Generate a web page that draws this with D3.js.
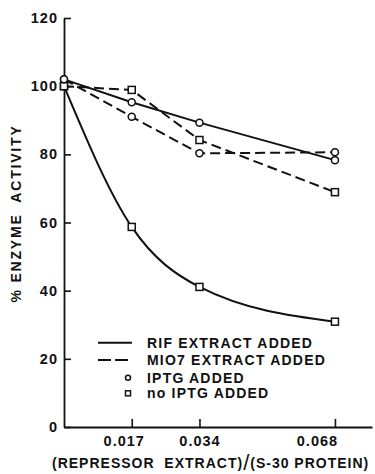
<!DOCTYPE html>
<html><head><meta charset="utf-8">
<script src="https://cdn.jsdelivr.net/npm/d3@7"></script>
<style>
html,body{margin:0;padding:0;background:#fff;}
svg{display:block;}
text{font-family:"Liberation Sans",Arial,sans-serif;fill:#111;}
</style></head>
<body>
<svg id="chart" width="375" height="474"></svg>
<script>
// ---- data ----
const xTicks = [0.017, 0.034, 0.068];
const yTicks = [0, 20, 40, 60, 80, 100, 120];
const xValues = [0, 0.017, 0.034, 0.068];
const rifIptg = [102, 95.3, 89.3, 78.3];
const rifNoIptg = [100, 58.7, 41.1, 30.9];
const m107Iptg = [102, 91.0, 80.3, 80.6];
const m107NoIptg = [100, 98.9, 84.2, 68.9];
const legendLabels = ["RIF EXTRACT ADDED", "MIO7 EXTRACT ADDED", "IPTG ADDED", "no IPTG ADDED"];

const series = [
  {values: rifNoIptg, dashed: false, marker: "square", smooth: true},
  {values: rifIptg, dashed: false, marker: "circle", smooth: false},
  {values: m107NoIptg, dashed: true, marker: "square", smooth: false},
  {values: m107Iptg, dashed: true, marker: "circle", smooth: false}
];

const svg = d3.select("#chart");
const x = d3.scaleLinear().domain([0, 0.0773]).range([64, 372]);
const y = d3.scaleLinear().domain([0, 120]).range([427, 18]);

// axes
const yAxis = d3.axisLeft(y).tickValues(yTicks).tickSizeInner(-7).tickSizeOuter(0).tickPadding(6);
const gy = svg.append("g").attr("transform", `translate(${x(0)},0)`).call(yAxis);
const xAxis = d3.axisBottom(x).tickValues(xTicks).tickFormat(d3.format(".3f")).tickSizeInner(-8).tickSizeOuter(0).tickPadding(9);
const gx = svg.append("g").attr("transform", `translate(0,${y(0)})`).call(xAxis);
[gx, gy].forEach(g => {
  g.select(".domain").attr("stroke", "#111").attr("stroke-width", 1.8);
  g.selectAll(".tick line").attr("stroke", "#111").attr("stroke-width", 1.6);
  g.selectAll(".tick text").attr("font-size", 14.5).attr("font-weight", "bold")
    .attr("letter-spacing", "1px").attr("font-family", "Liberation Sans, Arial, sans-serif").attr("fill", "#111");
});
const xLabelShift = [-8, 0, -18];
gx.selectAll(".tick text").attr("dx", (d, i) => xLabelShift[i]);

// axis titles
svg.append("text")
  .attr("transform", `translate(21,${(132 + 295) / 2}) rotate(-90)`)
  .attr("text-anchor", "middle").attr("font-size", 14).attr("font-weight", "bold")
  .attr("letter-spacing", "1.8px").style("white-space", "pre")
  .text("% ENZYME  ACTIVITY");

const xt = svg.append("text").attr("x", 52).attr("y", 468).attr("font-size", 14)
  .attr("font-weight", "bold").attr("letter-spacing", "1px").style("white-space", "pre");
xt.append("tspan").text("(REPRESSOR  EXTRACT)");
xt.append("tspan").attr("font-size", 22).attr("font-weight", "normal").attr("dy", 2).text("/");
xt.append("tspan").attr("dy", -2).text("(S-30 PROTEIN)");

// lines
series.forEach(s => {
  const line = d3.line()
    .x((d, i) => x(xValues[i])).y(d => y(d))
    .curve(s.smooth ? d3.curveMonotoneX : d3.curveLinear);
  svg.append("path").datum(s.values).attr("d", line)
    .attr("fill", "none").attr("stroke", "#111").attr("stroke-width", 2)
    .attr("stroke-dasharray", s.dashed ? "10,5" : null);
});
// markers
function drawMarker(g, type, cx, cy, size) {
  if (type === "circle") {
    g.append("circle").attr("cx", cx).attr("cy", cy).attr("r", size / 2)
      .attr("fill", "#fff").attr("stroke", "#111").attr("stroke-width", 1.5);
  } else {
    g.append("rect").attr("x", cx - size / 2).attr("y", cy - size / 2)
      .attr("width", size).attr("height", size)
      .attr("fill", "#fff").attr("stroke", "#111").attr("stroke-width", 1.5);
  }
}
const mg = svg.append("g");
series.forEach(s => {
  s.values.forEach((v, i) => drawMarker(mg, s.marker, x(xValues[i]), y(v), 7));
});

// legend
const legY = [342.7, 360, 377.7, 393.3];
const lg = svg.append("g");
lg.append("line").attr("x1", 98).attr("x2", 132).attr("y1", legY[0]).attr("y2", legY[0])
  .attr("stroke", "#111").attr("stroke-width", 2);
lg.append("line").attr("x1", 98).attr("x2", 132).attr("y1", legY[1]).attr("y2", legY[1])
  .attr("stroke", "#111").attr("stroke-width", 2).attr("stroke-dasharray", "13,4");
drawMarker(lg, "circle", 128, legY[2], 5);
drawMarker(lg, "square", 128, legY[3], 5);
legendLabels.forEach((t, i) => {
  lg.append("text").attr("x", 147).attr("y", legY[i] + 5).attr("font-size", 14)
    .attr("font-weight", "bold").attr("letter-spacing", "1.2px").text(t);
});
</script>
</body></html>
